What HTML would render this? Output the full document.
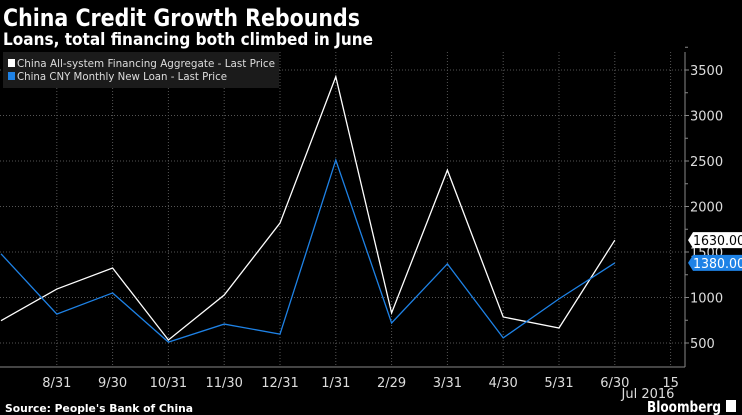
<!DOCTYPE html>
<html><head><meta charset="utf-8"><style>
body{margin:0;background:#000;width:742px;height:415px;overflow:hidden}
svg{display:block}
text{font-family:"DejaVu Sans","Liberation Sans",sans-serif}
</style></head><body>
<svg id="chart" width="742" height="415" xmlns="http://www.w3.org/2000/svg">
<rect width="742" height="415" fill="#000"/>
<text x="3" y="26" fill="#fff" font-size="24" font-weight="bold" textLength="357" lengthAdjust="spacingAndGlyphs">China Credit Growth Rebounds</text>
<text x="3" y="45" fill="#fff" font-size="17" font-weight="bold" textLength="370" lengthAdjust="spacingAndGlyphs">Loans, total financing both climbed in June</text>
<g id="grid"></g>
<g id="series"></g>
<g id="axes"></g>
<g>
<rect x="3" y="52" width="276" height="36" fill="#1b1b1b"/>
<rect x="8" y="59" width="7" height="8" fill="#fff"/>
<text x="17" y="67" fill="#ddd" font-size="11" textLength="258" lengthAdjust="spacingAndGlyphs">China All-system Financing Aggregate - Last Price</text>
<rect x="8" y="72" width="7" height="8" fill="#1e82e6"/>
<text x="17" y="80" fill="#ddd" font-size="11" textLength="210" lengthAdjust="spacingAndGlyphs">China CNY Monthly New Loan - Last Price</text>
</g>
<text x="5" y="412" fill="#fff" font-size="11" font-weight="bold" textLength="188" lengthAdjust="spacingAndGlyphs">Source: People's Bank of China</text>
<text x="647" y="412" fill="#fff" font-size="15" font-weight="bold" textLength="74" lengthAdjust="spacingAndGlyphs">Bloomberg</text>
<rect x="726" y="400" width="10" height="12" fill="#fff"/>
</svg>
<script>
const categories=["7/31","8/31","9/30","10/31","11/30","12/31","1/31","2/29","3/31","4/30","5/31","6/30"];
const xTickLabels=["8/31","9/30","10/31","11/30","12/31","1/31","2/29","3/31","4/30","5/31","6/30","15"];
const financing=[745,1093,1324,533,1027,1818,3426,830,2400,786,665,1630];
const loans=[1480,818,1050,510,708,597,2510,720,1370,556,985,1380];
const yTicks=[500,1000,1500,2000,2500,3000,3500];
const NS="http://www.w3.org/2000/svg";
const x0=1,step=55.8,plotRight=685,plotBottom=367,plotTop=52;
function xs(i){return x0+i*step;}
function ys(v){return 343-(v-500)*0.091;}
function mk(tag,attrs,parent){const e=document.createElementNS(NS,tag);for(const k in attrs)e.setAttribute(k,attrs[k]);document.getElementById(parent).appendChild(e);return e;}
for(let i=1;i<=12;i++){const g=mk('line',{x1:xs(i),x2:xs(i),y1:plotTop,y2:plotBottom,stroke:'#555','stroke-dasharray':'1,2'},'grid');

}
yTicks.forEach(v=>{const g=mk('line',{x1:0,x2:plotRight,y1:ys(v),y2:ys(v),stroke:'#555','stroke-dasharray':'1,2'},'grid');

});
let a=mk('line',{x1:0,x2:plotRight,y1:plotBottom,y2:plotBottom,stroke:'#888'},'axes');


a=mk('line',{x1:plotRight,x2:plotRight,y1:plotTop,y2:plotBottom,stroke:'#888'},'axes');


xTickLabels.forEach((l,k)=>{const t=mk('text',{x:xs(k+1),y:387,fill:'#ddd','font-size':'13','text-anchor':'middle'},'axes');t.textContent=l;

});
let jt=mk('text',{x:648,y:398,fill:'#ddd','font-size':'13','text-anchor':'middle'},'axes');jt.textContent='Jul 2016';


yTicks.forEach(v=>{mk('line',{x1:plotRight,x2:plotRight+4,y1:ys(v),y2:ys(v),stroke:'#888'},'axes');
mk('line',{x1:plotRight,x2:plotRight+3,y1:ys(v+250),y2:ys(v+250),stroke:'#888'},'axes');
const t=mk('text',{x:plotRight+5,y:ys(v)+5,fill:'#ddd','font-size':'13'},'axes');t.textContent=v;

});
function line(data,color,name){const p=mk('polyline',{points:data.map((v,i)=>xs(i)+','+ys(v)).join(' '),fill:'none',stroke:color,'stroke-width':'1.3'},'series');

}
line(financing,'#fff','financing-line');
line(loans,'#1e82e6','loan-line');
function badge(v,bg,fg,name){const y=ys(v);const g=mk('g',{},'axes');


const p=document.createElementNS(NS,'path');p.setAttribute('d',`M${plotRight+3},${y} L${plotRight+8},${y-8} H742 V${y+8} H${plotRight+8} Z`);p.setAttribute('fill',bg);g.appendChild(p);
const t=document.createElementNS(NS,'text');t.setAttribute('x',plotRight+8);t.setAttribute('y',y+5);t.setAttribute('fill',fg);t.setAttribute('font-size','13');t.setAttribute('textLength','52');t.setAttribute('lengthAdjust','spacingAndGlyphs');t.textContent=v.toFixed(2);g.appendChild(t);}
badge(financing[financing.length-1],'#fff','#000','financing-last-value');
badge(loans[loans.length-1],'#1e82e6','#fff','loan-last-value');
</script>
</body></html>
